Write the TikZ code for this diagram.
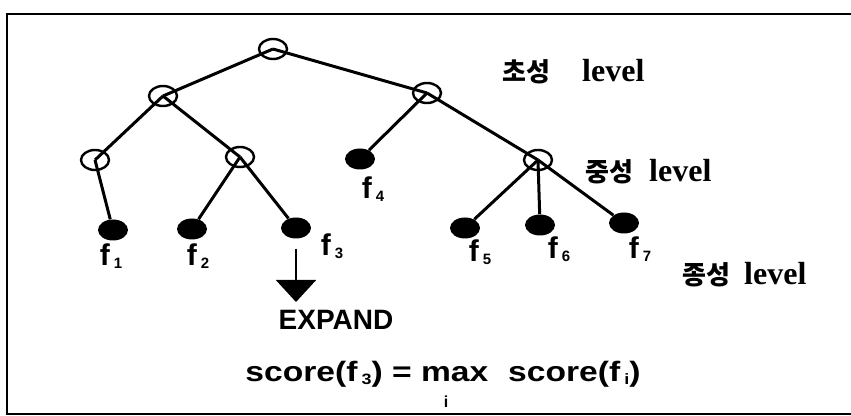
\documentclass[tikz,border=0pt]{standalone}
\usepackage{fontspec}
\setmainfont{Liberation Sans}
\newfontfamily\kr{Noto Sans CJK KR}
\newfontfamily\lvl{Liberation Serif}
\newfontfamily\wide[FakeStretch=1.2]{Liberation Sans}
\usetikzlibrary{arrows.meta,shapes.geometric}

% f with a small index
\newcommand{\fsub}[1]{f\kern2pt\raisebox{-1.5pt}{\fontsize{7.5}{7.5}\selectfont #1}}

\begin{document}
\begin{tikzpicture}[x=0.5pt,y=-0.5pt,
  inner/.style={draw,ellipse,line width=1.2pt,minimum width=14pt,minimum height=10pt,inner sep=0pt},
  leaf/.style={fill=black,ellipse,minimum width=15pt,minimum height=10.5pt,inner sep=0pt},
  edge/.style={line width=1.5pt},
  flabel/.style={font=\bfseries\fontsize{15}{15}\selectfont,inner sep=0pt},
  levellabel/.style={anchor=west,inner sep=0pt},
  bigtext/.style={font=\bfseries\fontsize{14}{15}\selectfont,inner sep=0pt}]
\useasboundingbox (0,0) rectangle (851,416);
\draw[line width=1pt] (851,14) -- (7,14) -- (7,414) -- (851,414);

% tree
\node[inner] (root) at (273,49) {};
\node[inner] (a) at (163,96) {};
\node[inner] (b) at (427,93) {};
\node[inner] (aa) at (95,160) {};
\node[inner] (ab) at (240,157) {};
\node[inner] (bb) at (538,160) {};
\node[leaf] (f1) at (113,230) {};
\node[leaf] (f2) at (192,229) {};
\node[leaf] (f3) at (296,228) {};
\node[leaf] (f4) at (360,159) {};
\node[leaf] (f5) at (465,228) {};
\node[leaf] (f6) at (540,225) {};
\node[leaf] (f7) at (624,223) {};

\draw[edge] (root.center) -- (a.center);
\draw[edge] (root.center) -- (b.center);
\draw[edge] (a.center) -- (aa.center);
\draw[edge] (a.center) -- (ab.center);
\draw[edge] (aa.center) -- (f1);
\draw[edge] (ab.center) -- (f2);
\draw[edge] (ab.center) -- (f3);
\draw[edge] (b.center) -- (f4);
\draw[edge] (b.center) -- (bb.center);
\draw[edge] (bb.center) -- (f5);
\draw[edge] (bb.center) -- (f6);
\draw[edge] (bb.center) -- (f7);

\node[flabel] (l1) at (111,256) {\fsub{1}};
\node[flabel] (l2) at (198,256) {\fsub{2}};
\node[flabel] (l3) at (332,246) {\fsub{3}};
\node[flabel] (l4) at (373,189) {\fsub{4}};
\node[flabel] (l5) at (480,252) {\fsub{5}};
\node[flabel] (l6) at (559,249) {\fsub{6}};
\node[flabel] (l7) at (640,249) {\fsub{7}};

% levels
\node[levellabel] (lev1) at (502,72) {{\kr\bfseries\fontsize{13}{13}\selectfont 초성}\hspace{16pt}{\lvl\bfseries\fontsize{16}{16}\selectfont level}};
\node[levellabel] (lev2) at (585,172) {{\kr\bfseries\fontsize{13}{13}\selectfont 중성}\hspace{8pt}{\lvl\bfseries\fontsize{16}{16}\selectfont level}};
\node[levellabel] (lev3) at (682,275) {{\kr\bfseries\fontsize{13}{13}\selectfont 종성}\hspace{7pt}{\lvl\bfseries\fontsize{16}{16}\selectfont level}};

% expand
\node[bigtext] (expand) at (336,320) {EXPAND};
\coordinate (tip) at (296,302);
\draw[line width=1pt,-{Triangle[width=20pt,length=11pt]},shorten <=5pt] (f3) -- (tip);

\node[bigtext,font=\wide\bfseries\fontsize{14}{15}\selectfont] (score) at (443,374) {score(\fsub{3}) = max\hspace{10pt}score(\fsub{i})};
\node[font=\bfseries\fontsize{8}{8}\selectfont,inner sep=0pt] (idx) at (446,402) {i};
\end{tikzpicture}
\end{document}
